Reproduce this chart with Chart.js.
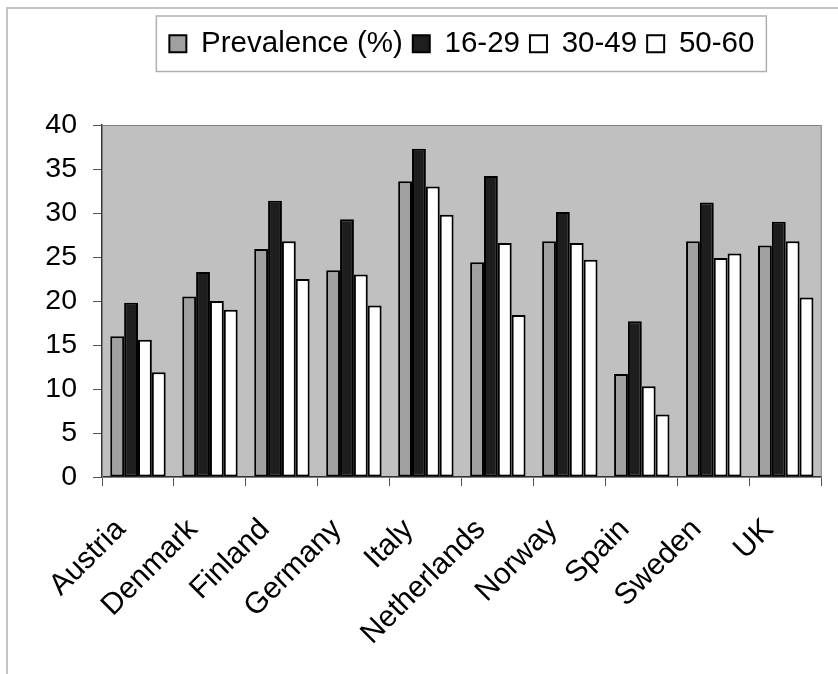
<!DOCTYPE html>
<html><head><meta charset="utf-8">
<style>html,body{margin:0;padding:0;background:#fff}#wrap{width:838px;height:674px;position:relative;overflow:hidden}</style>
<script src="https://cdn.jsdelivr.net/npm/chart.js@4"></script>
</head><body><div id="wrap"><canvas id="c" width="838" height="674"></canvas></div>
<script>
const categories = ['Austria','Denmark','Finland','Germany','Italy','Netherlands','Norway','Spain','Sweden','UK'];
const seriesNames = ['Prevalence (%)','16-29','30-49','50-60'];
const prevalence = [16.0,20.5,25.9,23.5,33.6,24.4,26.8,11.7,26.8,26.3];
const age16to29  = [19.8,23.3,31.4,29.3,37.3,34.2,30.1,17.7,31.2,29.0];
const age30to49  = [15.6,20.0,26.8,23.0,33.0,26.6,26.6,10.3,24.9,26.8];
const age50to60  = [11.9,19.0,22.5,19.5,29.8,18.4,24.7,7.1,25.4,20.4];
const yTicks = [0,5,10,15,20,25,30,35,40];

const FONT = '"Liberation Sans", Arial, sans-serif';
Chart.defaults.font.family = FONT;
Chart.defaults.color = '#111';

const fills = ['#a0a0a0','#1e1e1e','#ffffff','#ffffff'];
const seriesValues = [prevalence, age16to29, age30to49, age50to60];

const decor = {
  id: 'decor',
  afterInit(chart) {
    const lg = chart.legend;
    if (lg) {
      const orig = lg.fit;
      lg.fit = function() { orig.call(this); this.height = 106; };
    }
  },
  beforeDraw(chart) {
    const ctx = chart.ctx, a = chart.chartArea;
    ctx.save();
    ctx.fillStyle = '#fff';
    ctx.fillRect(0, 0, chart.width, chart.height);
    ctx.strokeStyle = '#c4c4c4';
    ctx.lineWidth = 2;
    ctx.strokeRect(7, 8, chart.width + 20, chart.height + 20);
    ctx.fillStyle = '#c0c0c0';
    ctx.fillRect(a.left, a.top, a.right - a.left, a.bottom - a.top);
    ctx.restore();
  },
  afterDraw(chart) {
    const ctx = chart.ctx, a = chart.chartArea;
    ctx.save();
    ctx.strokeStyle = '#808080';
    ctx.lineWidth = 1;
    ctx.strokeRect(a.left + 0.5, a.top + 0.5, a.right - a.left - 1, a.bottom - a.top);
    const hb = chart.legend && chart.legend.legendHitBoxes;
    if (hb && hb.length) {
      const l = hb[0].left - 13;
      const last = hb[hb.length - 1];
      const r = last.left + last.width + 12;
      const t = hb[0].top - 13;
      const b = hb[0].top + hb[0].height + 13;
      ctx.strokeStyle = '#b0b0b0';
      ctx.lineWidth = 1.5;
      ctx.strokeRect(l, t, r - l, b - t);
    }
    ctx.restore();
  }
};

new Chart(document.getElementById('c'), {
  type: 'bar',
  data: {
    labels: categories,
    datasets: seriesNames.map((name, i) => ({
      label: name,
      data: seriesValues[i],
      backgroundColor: fills[i],
      borderColor: '#000',
      borderWidth: 2,
      borderSkipped: false,
      barPercentage: 1.0,
      categoryPercentage: 0.77
    }))
  },
  options: {
    responsive: false,
    animation: false,
    layout: { padding: { top: 19, left: 0, right: 11, bottom: 0 } },
    plugins: {
      tooltip: { enabled: false },
      legend: {
        position: 'top',
        fullSize: false,
        labels: {
          boxWidth: 17, boxHeight: 17, padding: 10,
          color: '#000',
          font: { size: 29.5, family: FONT }
        }
      }
    },
    scales: {
      x: {
        offset: true,
        grid: { display: true, drawOnChartArea: false, drawTicks: true, tickLength: 9, color: '#555', offset: true },
        border: { display: true, color: '#333', width: 1.5 },
        ticks: {
          minRotation: 45, maxRotation: 45, autoSkip: false,
          labelOffset: -17, padding: 26,
          color: '#000', font: { size: 30, family: FONT }
        },
        afterFit(s) { s.height = 674 - 477; }
      },
      y: {
        min: 0, max: 40,
        afterBuildTicks(s) { s.ticks = yTicks.map(v => ({ value: v })); },
        grid: { display: true, drawOnChartArea: false, drawTicks: true, tickLength: 9, color: '#555' },
        border: { display: true, color: '#333', width: 1.5 },
        ticks: { padding: 16, color: '#000', font: { size: 28.5, family: FONT } },
        afterFit(s) { s.width = 102; }
      }
    }
  },
  plugins: [decor]
});
</script>
</body></html>
